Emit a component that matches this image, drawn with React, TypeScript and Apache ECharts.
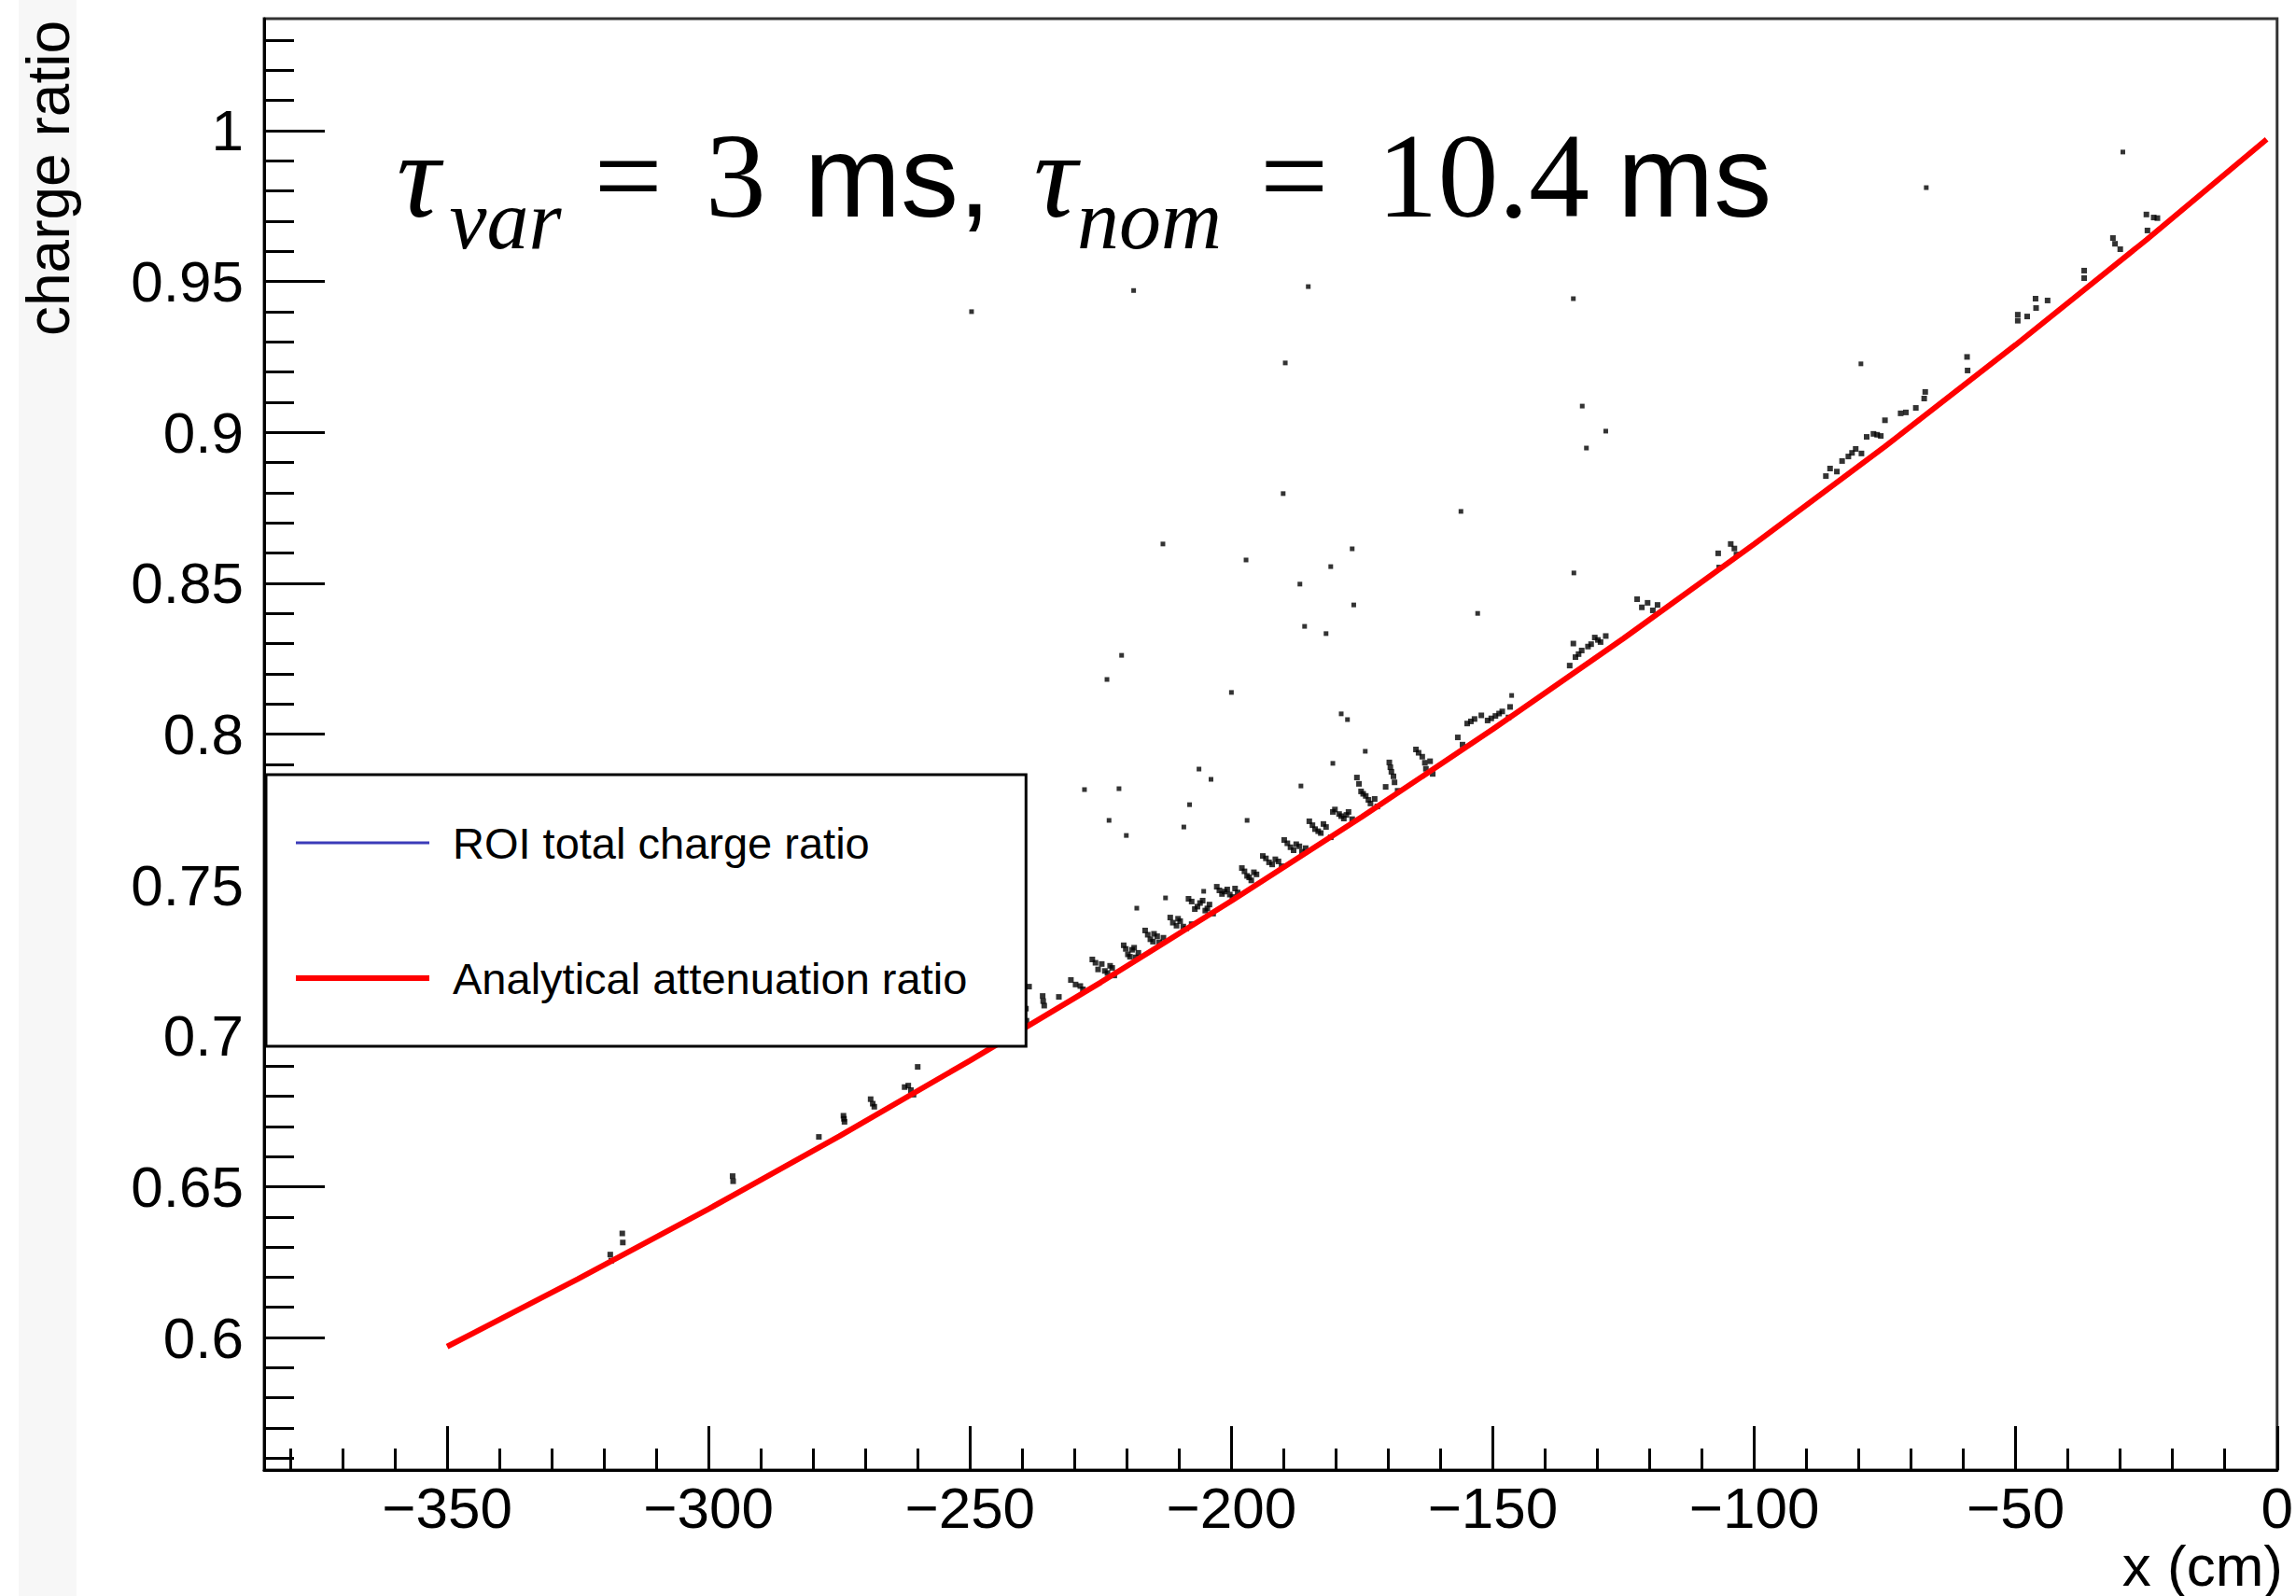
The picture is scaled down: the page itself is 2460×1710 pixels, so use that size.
import React, { useEffect, useRef } from "react";
import * as echarts from "echarts";

// ---------- axis ticks ----------
const xMajorTicks = [-350, -300, -250, -200, -150, -100, -50, 0];
const xMinorTicks = [
  -380, -370, -360, -340, -330, -320, -310, -290, -280, -270, -260, -240, -230, -220, -210,
  -190, -180, -170, -160, -140, -130, -120, -110, -90, -80, -70, -60, -40, -30, -20, -10,
];
const yMajorTicks = [0.6, 0.65, 0.7, 0.75, 0.8, 0.85, 0.9, 0.95, 1];
const yMinorTicks = [
  0.56, 0.57, 0.58, 0.59, 0.61, 0.62, 0.63, 0.64, 0.66, 0.67, 0.68, 0.69, 0.71, 0.72, 0.73,
  0.74, 0.76, 0.77, 0.78, 0.79, 0.81, 0.82, 0.83, 0.84, 0.86, 0.87, 0.88, 0.89, 0.91, 0.92,
  0.93, 0.94, 0.96, 0.97, 0.98, 0.99, 1.01, 1.02, 1.03,
];

// ---------- ROI total charge ratio: points hugging the curve ----------
const clusterX = [
  -318.8, -318.6, -316.5, -316.4, -295.4, -295.3, -278.9, -274.2, -274.0, -274.1,
  -269.0, -268.6, -268.3, -262.5, -261.8, -261.3, -260.8, -260.0,
  -239.3, -239.2, -238.7, -236.1, -236.0, -235.8, -233.0,
  -230.7, -229.8, -228.9, -228.4, -226.6, -225.5, -224.8, -223.7, -222.8, -222.4,
  -226.0, -224.2, -223.2,
  -220.6, -219.8, -219.0, -218.3, -217.8, -220.2, -219.4, -218.6,
  -216.5, -215.5, -214.8, -213.8, -213.0, -216.0, -215.0, -214.2,
  -211.7, -210.5, -209.8, -208.7, -207.6, -211.2, -210.2, -209.2,
  -208.2, -207.0, -206.0, -205.0, -204.2, -203.5, -207.6, -206.5, -205.5, -204.6,
  -202.8, -201.8, -200.8, -199.8, -198.8, -202.3, -201.3, -200.3, -199.3,
  -198.0, -197.0, -196.2, -195.2, -197.5, -196.6, -195.7,
  -194.0, -192.8, -191.6, -190.4, -193.4, -192.2, -191.0,
  -189.9, -188.7, -187.6, -186.5, -185.8, -189.3, -188.1, -187.0,
  -185.1, -184.0, -182.9, -181.9, -181.0, -184.5, -183.4, -182.4,
  -180.2, -179.4, -178.5, -177.6, -176.9, -180.6, -179.0, -178.0,
  -176.0, -175.2, -174.3, -173.4, -172.6, -172.1, -175.6, -174.8, -173.8,
  -170.5, -169.8, -169.4, -168.8, -168.2, -169.6, -169.0,
  -164.7, -163.5, -162.8, -162.0, -161.5, -164.2, -163.0, -156.7, -155.8,
  -154.9, -153.5, -152.2, -151.0, -149.5, -148.2, -147.0, -146.7, -154.2, -150.3, -148.8,
  -135.3, -134.6, -134.2, -133.0, -131.8, -130.5, -129.4, -128.4, -133.6, -131.2, -129.9,
  -122.4, -121.5, -120.4, -119.4, -118.5, -106.9, -106.7, -104.5, -103.8, -103.4,
  -86.3, -85.5, -84.2, -82.0, -80.6, -79.5, -78.5, -77.2, -75.8, -75.0, -83.2, -81.3, -76.5,
  -72.0, -71.0, -69.1, -67.5, -67.3, -59.3, -59.2,
  -49.6, -49.6, -47.8, -46.2, -46.1, -43.9, -36.9, -36.9, -31.4, -31.0, -30.0,
  -25.0, -24.8, -23.6, -22.9,
];
const clusterY = [
  0.6275, 0.6255, 0.6345, 0.6315, 0.6535, 0.6518, 0.6665, 0.6735, 0.6715, 0.6725,
  0.679, 0.6775, 0.6765, 0.683, 0.6835, 0.682, 0.6805, 0.6897,
  0.709, 0.705, 0.7163, 0.7132, 0.7115, 0.71, 0.7129,
  0.7185, 0.717, 0.7165, 0.7154, 0.7253, 0.722, 0.7238, 0.7208, 0.7225, 0.72,
  0.7242, 0.7215, 0.7232,
  0.73, 0.727, 0.7285, 0.726, 0.7275, 0.7288, 0.7262, 0.7292,
  0.7349, 0.732, 0.7338, 0.731, 0.7325, 0.7335, 0.7312, 0.733,
  0.7392, 0.7365, 0.738, 0.7355, 0.737, 0.7375, 0.7388, 0.7362,
  0.7454, 0.742, 0.744, 0.7415, 0.7435, 0.7405, 0.7445, 0.7428, 0.7448, 0.7422,
  0.7494, 0.747, 0.7485, 0.746, 0.7475, 0.7482, 0.7478, 0.7468, 0.7488,
  0.7556, 0.753, 0.7515, 0.7535, 0.7545, 0.7525, 0.7542,
  0.7596, 0.7575, 0.7585, 0.7562, 0.7588, 0.7568, 0.7578,
  0.7649, 0.7625, 0.7635, 0.761, 0.7622, 0.7638, 0.7615, 0.7628,
  0.7711, 0.7685, 0.7672, 0.7692, 0.7658, 0.7698, 0.7678, 0.7702,
  0.775, 0.7735, 0.772, 0.7742, 0.7718, 0.7742, 0.7728, 0.7732,
  0.7856, 0.781, 0.7795, 0.777, 0.7785, 0.776, 0.7835, 0.7802, 0.7782,
  0.7825, 0.7906, 0.7875, 0.784, 0.7812, 0.789, 0.786,
  0.7949, 0.7925, 0.7885, 0.791, 0.7868, 0.7938, 0.7905, 0.7989, 0.7965,
  0.8035, 0.805, 0.8062, 0.8045, 0.806, 0.8075, 0.8055, 0.809, 0.8042, 0.8052, 0.8068,
  0.8227, 0.83, 0.8255, 0.8277, 0.829, 0.832, 0.8305, 0.8325, 0.8265, 0.8298, 0.8312,
  0.8447, 0.842, 0.8435, 0.841, 0.8428, 0.8599, 0.8552, 0.863, 0.8615, 0.8595,
  0.8855, 0.888, 0.887, 0.892, 0.8945, 0.893, 0.8985, 0.8995, 0.8988, 0.904, 0.8905, 0.8932, 0.8992,
  0.9063, 0.9066, 0.9081, 0.9112, 0.9134, 0.925, 0.9205,
  0.939, 0.937, 0.9384, 0.9443, 0.9412, 0.9437, 0.9536, 0.9511, 0.9644, 0.9625, 0.9607,
  0.9722, 0.9669, 0.9712, 0.971,
];

// ---------- ROI total charge ratio: scattered outliers ----------
const outlierX = [
  -249.7, -218.7, -185.3, -134.6, -189.7, -79.6, -132.9, -128.4, -132.1, -190.1,
  -156.1, -213.1, -197.2, -176.9, -181.0, -186.9, -176.6, -134.5, -152.9, -186.0,
  -181.9, -221.0, -223.8, -200.0, -179.0, -177.8, -174.4, -180.6, -206.2, -203.9,
  -186.7, -228.1, -221.5, -223.4, -209.1, -197.0, -220.1, -67.1, -29.5, -208.0,
  -205.3, -212.6, -218.1, -146.4,
];
const outlierY = [
  0.94, 0.947, 0.9483, 0.9443, 0.923, 0.9227, 0.9087, 0.9004, 0.8948, 0.8797,
  0.8738, 0.863, 0.8577, 0.8614, 0.8555, 0.8497, 0.8428, 0.8534, 0.84, 0.8357,
  0.8333, 0.8261, 0.8181, 0.8138, 0.8067, 0.8048, 0.7943, 0.7903, 0.7884, 0.785,
  0.7828, 0.7816, 0.7819, 0.7714, 0.7692, 0.7714, 0.7664, 0.9811, 0.9929, 0.7766,
  0.7479, 0.7457, 0.7423, 0.8128,
];

// ---------- Analytical attenuation ratio ----------
const curveX = [-350, -325, -300, -275, -250, -225, -200, -175, -150, -125, -100, -75, -50, -25, -2];
const curveY = [
  0.597, 0.6194, 0.6426, 0.6667, 0.6918, 0.7177, 0.7447, 0.7726, 0.8016, 0.8317, 0.863,
  0.8953, 0.929, 0.9638, 0.9971,
];

const SANS = "'Liberation Sans', Arial, Helvetica, sans-serif";
const SERIF = "'Liberation Serif', 'Times New Roman', 'DejaVu Serif', serif";

const minusFmt = (v: number) => (v < 0 ? "\u2212" + Math.abs(v) : String(v));

export default function App() {
  const ref = useRef<HTMLDivElement>(null);

  useEffect(() => {
    const chart = echarts.init(ref.current as HTMLDivElement, undefined, { renderer: "svg" });
    const tickStyle = { color: "#000", width: 3 };
    const nCluster = clusterX.length;
    const roiData = clusterX
      .map((x, i) => [x, clusterY[i]])
      .concat(outlierX.map((x, i) => [x, outlierY[i]]));
    const serifMain = { fontFamily: SERIF, fontSize: 130, lineHeight: 130, verticalAlign: "top" };
    const serifIt = { ...serifMain, fontStyle: "italic" };
    const sub = { fontFamily: SERIF, fontStyle: "italic", fontSize: 90, lineHeight: 90, verticalAlign: "top" };
    const sansMain = { fontFamily: SANS, fontSize: 124, lineHeight: 124, verticalAlign: "top" };
    const option: any = {
      animation: false,
      backgroundColor: "#ffffff",
      grid: {
        left: 283,
        right: 11,
        top: 20,
        bottom: 135,
        show: true,
        borderColor: "#333",
        borderWidth: 3,
        backgroundColor: "transparent",
      },
      xAxis: [
        {
          type: "value",
          min: -385,
          max: 0,
          position: "bottom",
          axisLine: { show: true, onZero: false, lineStyle: { color: "#000", width: 3 } },
          axisTick: { show: true, inside: true, length: 47, customValues: xMajorTicks, lineStyle: tickStyle },
          axisLabel: {
            show: true,
            customValues: xMajorTicks,
            margin: 9,
            fontSize: 62,
            fontFamily: SANS,
            color: "#000",
            formatter: minusFmt,
          },
          splitLine: { show: false },
        },
        {
          type: "value",
          min: -385,
          max: 0,
          position: "bottom",
          axisLine: { show: false, onZero: false },
          axisTick: { show: true, inside: true, length: 23, customValues: xMinorTicks, lineStyle: tickStyle },
          axisLabel: { show: false },
          splitLine: { show: false },
        },
      ],
      yAxis: [
        {
          type: "value",
          min: 0.5561,
          max: 1.0371,
          position: "left",
          axisLine: { show: true, onZero: false, lineStyle: { color: "#000", width: 3 } },
          axisTick: { show: true, inside: true, length: 65, customValues: yMajorTicks, lineStyle: tickStyle },
          axisLabel: {
            show: true,
            customValues: yMajorTicks,
            margin: 22,
            fontSize: 62,
            fontFamily: SANS,
            color: "#000",
          },
          splitLine: { show: false },
        },
        {
          type: "value",
          min: 0.5561,
          max: 1.0371,
          position: "left",
          axisLine: { show: false, onZero: false },
          axisTick: { show: true, inside: true, length: 32, customValues: yMinorTicks, lineStyle: tickStyle },
          axisLabel: { show: false },
          splitLine: { show: false },
        },
      ],
      legend: {
        orient: "vertical",
        left: 285,
        top: 830,
        padding: [43, 63, 43, 32],
        itemGap: 85,
        itemWidth: 143,
        itemHeight: 8,
        selectedMode: false,
        backgroundColor: "#ffffff",
        borderColor: "#000",
        borderWidth: 3,
        borderRadius: 0,
        textStyle: {
          fontSize: 47,
          fontFamily: SANS,
          color: "#000",
          lineHeight: 60,
          padding: [0, 0, 0, 20],
        },
        data: [
          { name: "ROI total charge ratio", icon: "path://M0 0H143V3H0Z", itemStyle: { color: "#0a0aa8" } },
          { name: "Analytical attenuation ratio", icon: "path://M0 0H143V6H0Z", itemStyle: { color: "#ff0000" } },
        ],
      },
      series: [
        {
          name: "ROI total charge ratio",
          type: "scatter",
          xAxisIndex: 0,
          yAxisIndex: 0,
          symbol: "rect",
          symbolSize: (_v: any, p: any) => (p.dataIndex < nCluster ? 6 : 5),
          itemStyle: { color: "#000" },
          data: roiData,
          z: 2,
        },
        {
          name: "Analytical attenuation ratio",
          type: "line",
          xAxisIndex: 0,
          yAxisIndex: 0,
          showSymbol: false,
          symbol: "none",
          lineStyle: { color: "#ff0000", width: 6 },
          itemStyle: { color: "#ff0000" },
          data: curveX.map((x, i) => [x, curveY[i]]),
          z: 3,
        },
      ],
      graphic: [
        {
          type: "rect",
          silent: true,
          z: -10,
          shape: { x: 20, y: 0, width: 62, height: 1710 },
          style: { fill: "#f7f7f7" },
        },
        {
          type: "text",
          silent: true,
          x: 52,
          y: 22,
          rotation: Math.PI / 2,
          style: {
            text: "charge ratio",
            align: "right",
            verticalAlign: "middle",
            fontSize: 64,
            fontFamily: SANS,
            fill: "#000",
          },
        },
        {
          type: "text",
          silent: true,
          x: 2446,
          y: 1677,
          style: {
            text: "x (cm)",
            align: "right",
            verticalAlign: "middle",
            fontSize: 62,
            fontFamily: SANS,
            fill: "#000",
          },
        },
        {
          type: "text",
          silent: true,
          x: 425,
          y: 123,
          style: {
            text: "{t|τ}{sv|var}{e1|=}{n3|3}{m1|ms,}{t2|τ}{sn|nom}{e2|=}{n4|10.4}{m2|ms}",
            align: "left",
            verticalAlign: "top",
            fill: "#000",
            rich: {
              t: { ...serifIt },
              sv: { ...sub, padding: [67, 0, 0, 10] },
              e1: { ...serifMain, padding: [0, 0, 0, 35] },
              n3: { ...serifMain, padding: [0, 0, 0, 46] },
              m1: { ...sansMain, padding: [4, 0, 0, 41] },
              t2: { ...serifIt, padding: [0, 0, 0, 46] },
              sn: { ...sub, padding: [67, 0, 0, 0] },
              e2: { ...serifMain, padding: [0, 0, 0, 41] },
              n4: { ...serifMain, padding: [0, 0, 0, 52] },
              m2: { ...sansMain, padding: [4, 0, 0, 30] },
            },
          },
        },
      ],
    };
    chart.setOption(option);
    return () => {
      chart.dispose();
    };
  }, []);

  return (
    <div
      ref={ref}
      style={{ position: "fixed", left: 0, top: 0, width: 2460, height: 1710, background: "#fff" }}
    />
  );
}
